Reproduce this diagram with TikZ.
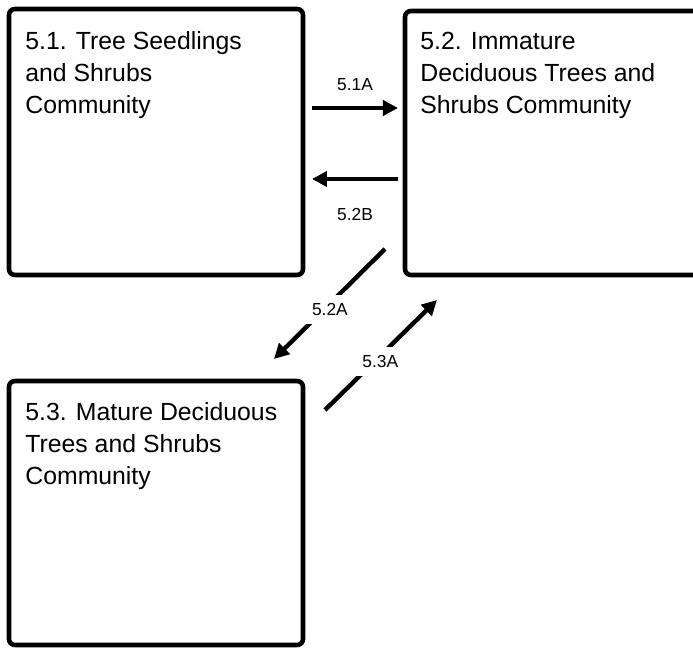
\documentclass[tikz,border=0pt]{standalone}
\usepackage{fontspec}
\setmainfont{Liberation Sans}
\usetikzlibrary{arrows.meta,positioning}

\begin{document}
\begin{tikzpicture}[x=0.5pt,y=-0.5pt,>={Triangle[length=7.5pt,width=7.5pt]},
  box/.style={draw,line width=2.3pt,rounded corners=3pt,minimum width=147pt,
    minimum height=132pt,outer sep=0pt,inner sep=0pt,anchor=north west},
  boxtext/.style={align=left,anchor=north west,inner sep=0pt,
    font=\fontsize{12.4}{16}\selectfont},
  flow/.style={->,line width=2.2pt},
  tag/.style={font=\fontsize{8.7}{10}\selectfont,inner sep=0pt},
  diagtag/.style={tag,fill=white,inner sep=4pt}]
  %
  % Frame
  \useasboundingbox (0,0) rectangle (693,648);
  %
  % Boxes
  \node[box,minimum height=133pt] (b51) at (9,9) {};
  \node[box] (b52) at (405,11) {};
  \node[box] (b53) at (9,381) {};
  \node[boxtext] (t51) at ([shift={(16,22)}]b51.north west)
    {5.1. Tree Seedlings\\and Shrubs\\Community};
  \node[boxtext] (t52) at ([shift={(15,21)}]b52.north west)
    {5.2. Immature\\Deciduous Trees and\\Shrubs Community};
  \node[boxtext] (t53) at ([shift={(16,21)}]b53.north west)
    {5.3. Mature Deciduous\\Trees and Shrubs\\Community};
  %
  % Arrow ends
  \coordinate (s1a) at (312,108);
  \coordinate (e1a) at (398,108);
  \coordinate (s2b) at (398,179);
  \coordinate (e2b) at (312,179);
  \coordinate (s2a) at (385,249);
  \coordinate (e2a) at (274,359);
  \coordinate (s3a) at (325,410);
  \coordinate (e3a) at (437,300);
  %
  % Transitions
  \draw[flow] (s1a) -- (e1a) node[tag,midway,above=7.5pt] (l1a) {5.1A};
  \draw[flow] (s2b) -- (e2b) node[tag,midway,below=13.5pt] (l2b) {5.2B};
  \draw[flow] (s2a) -- (e2a) node[diagtag,pos=0.55,xshift=3pt] (l2a) {5.2A};
  \draw[flow] (s3a) -- (e3a) node[diagtag,pos=0.44,xshift=3pt] (l3a) {5.3A};
  %
\end{tikzpicture}
\end{document}
